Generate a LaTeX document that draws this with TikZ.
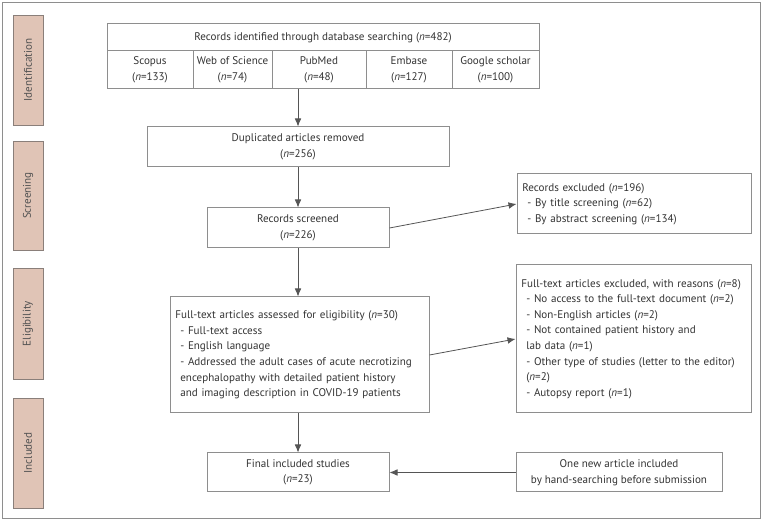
\documentclass[tikz,border=0pt]{standalone}
\usepackage{fontspec}
\setmainfont{PT Sans}
\usetikzlibrary{arrows.meta,calc}
\definecolor{lin}{HTML}{8E8E8E}
\definecolor{arr}{HTML}{555555}
\definecolor{txt}{HTML}{333333}
\definecolor{tan}{HTML}{E0C4B6}
\definecolor{tanb}{HTML}{8A7F7A}
\newcommand{\nn}{\textit{n}}
\newcommand{\dd}[1]{\mbox{\hspace*{3.75pt}- #1}}
\newcommand{\cc}[1]{\mbox{\hspace*{3.75pt}#1}}
\begin{document}
\begin{tikzpicture}[x=0.75pt,y=-0.75pt,
  font=\fontsize{8.3}{11.7}\selectfont,
  box/.style={draw=lin, line width=0.75pt, inner sep=0pt, rectangle, text=txt, align=center},
  lbox/.style={draw=lin, line width=0.75pt, inner ysep=0pt, inner xsep=4pt, rectangle, text=txt, align=left},
  cell/.style={inner sep=0pt, text=txt, align=center},
  phase/.style={draw=tanb, fill=tan, line width=0.6pt, inner sep=0pt, rotate=90, text=txt!85!white},
  flow/.style={draw=arr, line width=0.6pt, -{Latex[length=6pt,width=5pt]}}]
\useasboundingbox (0,0) rectangle (764,523);
\draw[lin, line width=0.75pt] (2,3) rectangle (760,519);
% phase labels
\node[phase, minimum width=82.5pt, minimum height=22.5pt] (pid) at (28,70) {Identification};
\node[phase, minimum width=81.75pt, minimum height=22.5pt] (psc) at (28,195.5) {Screening};
\node[phase, minimum width=83.25pt, minimum height=22.5pt] (pel) at (28,323.5) {Eligibility};
\node[phase, minimum width=82.5pt, minimum height=22.5pt] (pin) at (28,453) {Included};
% database box
\node[box, minimum width=324pt, minimum height=48.75pt] (db) at (323,56.5) {};
\draw[lin, line width=0.75pt] (107,51) -- (539,51);
\foreach \x in {193,272,366,452} \draw[lin, line width=0.75pt] (\x,51) -- (\x,89);
\node[cell] (dbt) at (323,37.5) {Records identified through database searching (\nn=482)};
\node[cell] (c1) at (150,70) {Scopus\\(\nn=133)};
\node[cell] (c2) at (232.5,70) {Web of Science\\(\nn=74)};
\node[cell] (c3) at (319,70) {PubMed\\(\nn=48)};
\node[cell] (c4) at (409,70) {Embase\\(\nn=127)};
\node[cell] (c5) at (495.5,70) {Google scholar\\(\nn=100)};
% flow boxes
\node[box, minimum width=226.5pt, minimum height=30pt] (dup) at (298,147) {Duplicated articles removed\\(\nn=256)};
\node[box, minimum width=136.5pt, minimum height=30pt] (scr) at (298,228) {Records screened\\(\nn=226)};
\node[lbox, text width=167.5pt, minimum height=45pt] (ex1) at (634,204) {Records excluded (\nn=196)\\\dd{By title screening (\nn=62)}\\\dd{By abstract screening (\nn=134)}};
\node[lbox, text width=186.25pt, minimum height=87pt] (eli) at (299.5,355) {\mbox{Full-text articles assessed for eligibility (\nn=30)}\\\dd{Full-text access}\\\dd{English language}\\\dd{Addressed the adult cases of acute necrotizing}\\\cc{encephalopathy with detailed patient history}\\\cc{and imaging description in COVID-19 patients}};
\node[lbox, text width=168.25pt, minimum height=111pt] (ex2) at (633.5,339) {\mbox{Full-text articles excluded, with reasons (\nn=8)}\\\dd{No access to the full-text document (\nn=2)}\\\dd{Non-English articles (\nn=2)}\\\dd{Not contained patient history and}\\\cc{lab data (\nn=1)}\\\dd{Other type of studies (letter to the editor)}\\\cc{(\nn=2)}\\\dd{Autopsy report (\nn=1)}};
\node[box, minimum width=136.5pt, minimum height=29.25pt] (fin) at (298,472.5) {Final included studies\\(\nn=23)};
\node[box, minimum width=154.5pt, minimum height=29.25pt] (new) at (619,472.5) {One new article included\\by hand-searching before submission};
% connectors
\draw[flow] (db.south -| dup.north) -- (dup.north);
\draw[flow] (dup.south) -- (scr.north);
\draw[flow] (scr.south) -- (scr.south |- eli.north);
\draw[flow] (fin.north |- eli.south) -- (fin.north);
\draw[flow] (scr.east) -- (ex1.west);
\draw[flow] (eli.east) -- (ex2.west);
\draw[flow] (new.west) -- (fin.east);
\end{tikzpicture}
\end{document}
